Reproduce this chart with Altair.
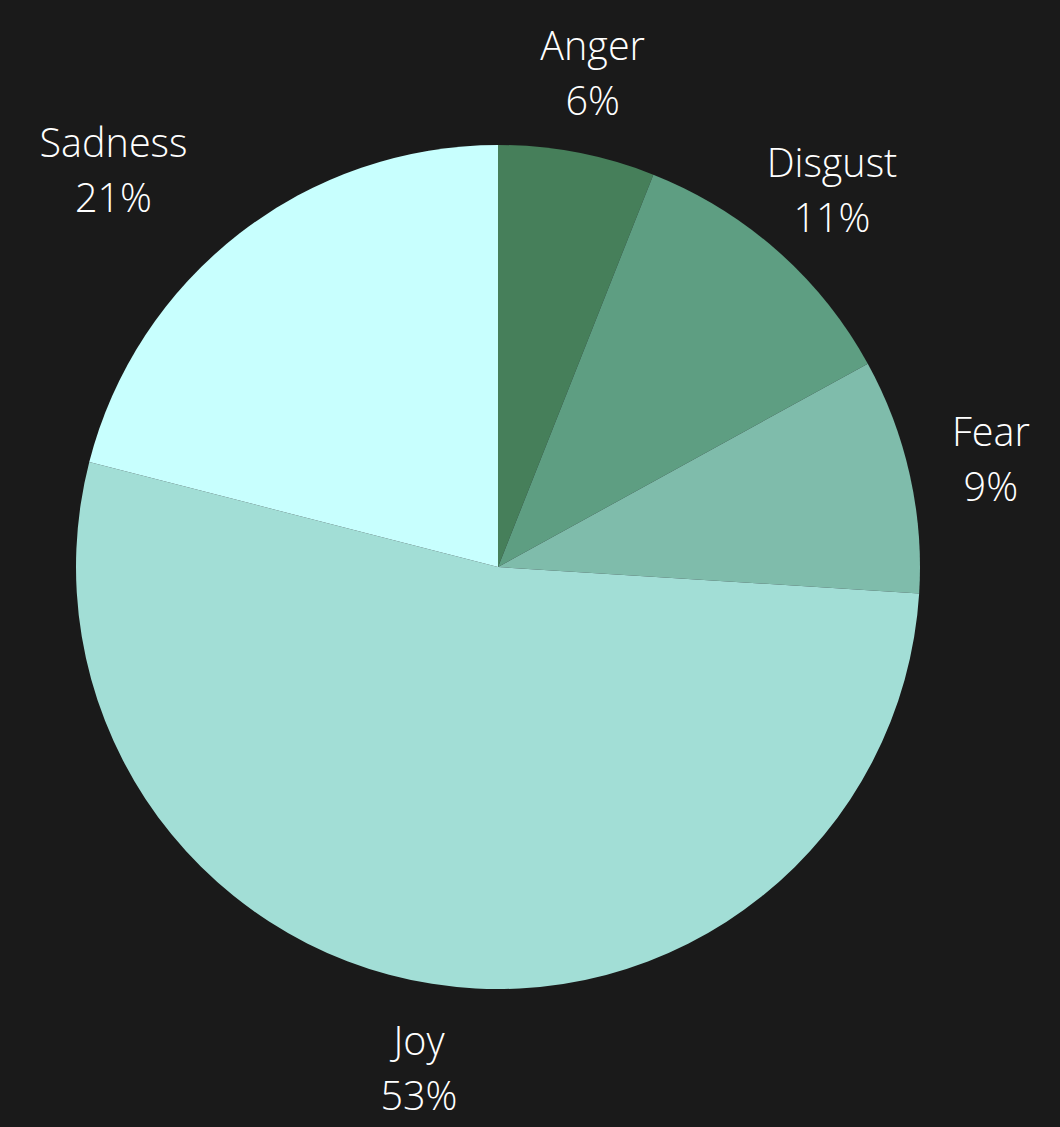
import altair as alt
import pandas as pd

emotions = ["Anger", "Disgust", "Fear", "Joy", "Sadness"]
shares = [6, 11, 9, 53, 21]
colors = ["#467f5a", "#5e9e82", "#7fbcab", "#a2ded6", "#c8fffe"]

df = pd.DataFrame({"emotion": emotions, "share": shares, "order": list(range(len(emotions)))})
df["label"] = [[e, f"{s}%"] for e, s in zip(emotions, shares)]

theta = alt.Theta("share:Q", stack=True, scale=alt.Scale(range=[0, 6.283185307]))
color = alt.Color("emotion:N", scale=alt.Scale(domain=emotions, range=colors), legend=None)
order = alt.Order("order:Q")

base = alt.Chart(df)

pie = base.mark_arc(outerRadius=422, stroke=None).encode(
    theta=theta, color=color, order=order
)

text_style = dict(radius=505, font="Open Sans", fontWeight=300, fontSize=39.5,
                  color="#ffffff", lineHeight=55, align="center", baseline="middle", dy=-23)

labels = base.mark_text(**text_style).encode(
    theta=theta, text="label", order=order,
    opacity=alt.condition(alt.datum.emotion == "Sadness", alt.value(0), alt.value(1)),
)
labels_left = base.mark_text(dx=-75, **text_style).encode(
    theta=theta, text="label", order=order,
    opacity=alt.condition(alt.datum.emotion == "Sadness", alt.value(1), alt.value(0)),
)

chart = alt.layer(pie, labels, labels_left).properties(
    width=996, height=1120,
    autosize=alt.AutoSizeParams(type="none"),
    padding={"left": 0, "top": 7, "right": 64, "bottom": 0},
    background="#1a1a1a",
).configure_view(stroke=None)

chart.save("out.html", embed_options={"renderer": "svg", "actions": False})
